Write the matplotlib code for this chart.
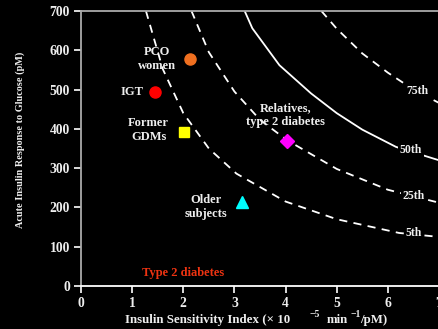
import matplotlib
matplotlib.use("Agg")
import matplotlib.pyplot as plt

plt.rcParams['font.family'] = ['Liberation Serif', 'DejaVu Serif']
plt.rcParams['font.weight'] = 'bold'

# percentile curves (insulin sensitivity, acute insulin response)
p5_x = [1.27, 1.6, 2.0, 2.5, 3.04, 4.0, 5.0, 6.22, 7.0]
p5_y = [700, 552, 440, 350, 286, 215, 170, 135, 125]
p25_x = [2.16, 2.5, 3.0, 3.5, 4.03, 5.0, 6.0, 7.0]
p25_y = [700, 595, 495, 423, 371, 298, 245, 212]
p50_x = [3.2, 3.35, 3.88, 4.5, 5.0, 5.5, 6.16, 7.0]
p50_y = [700, 656, 562, 490, 440, 398, 354, 320]
p75_x = [4.70, 5.0, 5.5, 6.0, 6.5, 7.0]
p75_y = [700, 655, 592, 543, 500, 466]

pct_labels = ['5th', '25th', '50th', '75th']
pct_label_x = [6.51, 6.51, 6.45, 6.57]
pct_label_y = [134, 229, 346, 496]

# subject groups
group_names = ['IGT', 'PCO\nwomen', 'Former\nGDMs', 'Relatives,\ntype 2 diabetes', 'Older\nsubjects']
group_x = [1.45, 2.14, 2.01, 4.03, 3.14]
group_y = [495, 578, 392, 370, 214]
group_colors = ['#ff0000', '#f07020', '#ffff00', '#ff00ff', '#00ffff']
group_markers = ['o', 'o', 's', 'D', '^']
group_msize = [8, 8, 7.5, 7.5, 8.5]

fig = plt.figure(figsize=(4.39, 3.29), dpi=100, facecolor='black')
ax = fig.add_axes([0.1845, 0.1307, 0.8155, 0.8359], facecolor='black')

dash = (0, (4.5, 3.5))
ax.plot(p5_x, p5_y, color='white', lw=1.3, linestyle=dash)
ax.plot(p25_x, p25_y, color='white', lw=1.3, linestyle=dash)
ax.plot(p50_x, p50_y, color='white', lw=1.3)
ax.plot(p75_x, p75_y, color='white', lw=1.3, linestyle=dash)

for lab, lx, ly in zip(pct_labels, pct_label_x, pct_label_y):
    ax.text(lx, ly, lab, color='#eeeeee', fontsize=8.5, fontweight='bold',
            ha='center', va='center',
            bbox=dict(facecolor='black', edgecolor='none', pad=1.5))

for x, y, c, m, s in zip(group_x, group_y, group_colors, group_markers, group_msize):
    ax.plot(x, y, marker=m, color=c, markersize=s, linestyle='none', zorder=5)

txt = dict(color='#eeeeee', fontsize=9, fontweight='bold', linespacing=1.2)
ax.text(1.22, 495, group_names[0], ha='right', va='center', **txt)
ax.text(1.48, 578, group_names[1], ha='center', va='center', **txt)
ax.text(1.32, 397, group_names[2], ha='center', va='center', **txt)
ax.text(4.0, 435, group_names[3], ha='center', va='center', **txt)
ax.text(2.44, 202, group_names[4], ha='center', va='center', **txt)
ax.text(1.99, 33, 'Type 2 diabetes', color='#ee3311', fontsize=9,
        fontweight='bold', ha='center', va='center')

ax.set_xlim(0, 7)
ax.set_ylim(0, 700)
ax.set_xticks(range(0, 8))
ax.set_yticks(range(0, 701, 100))

for side in ['left', 'top']:
    ax.spines[side].set_color('#aaaaaa')
    ax.spines[side].set_linewidth(1.3)
ax.spines['bottom'].set_color('white')
ax.spines['bottom'].set_linewidth(1.3)
ax.spines['right'].set_visible(False)

ax.tick_params(colors='white', labelcolor='#eeeeee', labelsize=9.8,
               length=5, width=1.2, direction='out', pad=3)
for lbl in ax.get_xticklabels() + ax.get_yticklabels():
    lbl.set_fontweight('bold')

# x label in pieces, with raised exponents
lab = dict(color='#eeeeee', fontweight='bold', va='baseline', ha='left')
fig.text(125 / 439, 1 - 323 / 329, 'Insulin Sensitivity Index (\u00d7 10', fontsize=9.3, **lab)
fig.text(310 / 439, 1 - 317 / 329, '\u22125', fontsize=7, **lab)
fig.text(327 / 439, 1 - 323 / 329, 'min', fontsize=9.3, **lab)
fig.text(351 / 439, 1 - 317 / 329, '\u22121', fontsize=7, **lab)
fig.text(360 / 439, 1 - 323 / 329, '/pM)', fontsize=9.3, **lab)

fig.text(0.046, 1 - 140 / 329, 'Acute Insulin Response to Glucose (pM)', color='#eeeeee',
         fontsize=7.4, fontweight='bold', rotation=90, ha='center', va='center')

fig.savefig('out.png', dpi=100, facecolor='black')
